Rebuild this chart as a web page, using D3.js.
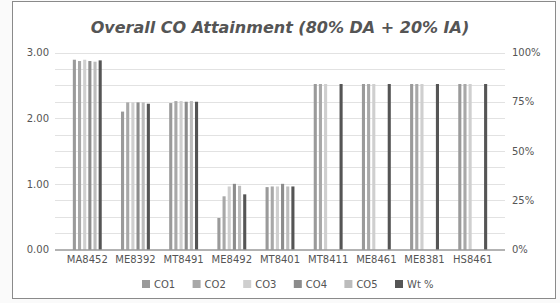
<!DOCTYPE html>
<html>
<head>
<meta charset="utf-8">
<script src="https://cdn.jsdelivr.net/npm/d3@7/dist/d3.min.js"></script>
<style>
  html, body { margin: 0; padding: 0; background: #fafafa; }
  svg { display: block; }
</style>
</head>
<body>
<svg id="chart" width="560" height="303"></svg>
<script>
const categories = ["MA8452", "ME8392", "MT8491", "ME8492", "MT8401", "MT8411", "ME8461", "ME8381", "HS8461"];
const co1 = [2.89, 2.10, 2.23, 0.48, 0.95, 2.52, 2.52, 2.52, 2.52];
const co2 = [2.87, 2.24, 2.26, 0.81, 0.96, 2.52, 2.52, 2.52, 2.52];
const co3 = [2.89, 2.24, 2.26, 0.96, 0.96, 2.52, 2.52, 2.52, 2.52];
const co4 = [2.87, 2.24, 2.25, 1.00, 1.00, null, null, null, null];
const co5 = [2.86, 2.24, 2.26, 0.97, 0.96, null, null, null, null];
const wtPct = [96, 74, 75, 28, 32, 84, 84, 84, 84];
const leftTicks = [0, 1, 2, 3];
const rightTicks = [0, 25, 50, 75, 100];
const seriesNames = ["CO1", "CO2", "CO3", "CO4", "CO5", "Wt %"];
const colors = ["#9a9a9a", "#a8a8a8", "#cfcfcf", "#8c8c8c", "#bcbcbc", "#555555"];

(function () {
const svg = d3.select("#chart");

// frame
svg.append("rect").attr("x", 12.5).attr("y", 1.5).attr("width", 543).attr("height", 297)
  .attr("fill", "#ffffff").attr("stroke", "#8a8a8a").attr("stroke-width", 1);

const plotTop = 52.5, plotBottom = 249.5, plotLeft = 55, plotRight = 505;

const x0 = d3.scaleBand().domain(categories).range([plotLeft, plotRight]).paddingInner(0.4).paddingOuter(0.37);
const x1 = d3.scaleBand().domain(seriesNames).range([0, x0.bandwidth()]).paddingInner(0.4);
const yL = d3.scaleLinear().domain([0, 3]).range([plotBottom, plotTop]);
const yR = d3.scaleLinear().domain([0, 100]).range([plotBottom, plotTop]);

// gridlines every 0.25
const gridVals = d3.range(0.25, 3.01, 0.25);
svg.append("g").selectAll("line").data(gridVals).join("line")
  .attr("x1", plotLeft).attr("x2", plotRight)
  .attr("y1", d => Math.round(yL(d)) + 0.5).attr("y2", d => Math.round(yL(d)) + 0.5)
  .attr("stroke", "#e2e2e2").attr("stroke-width", 1);

// left axis
const axL = svg.append("g").attr("transform", `translate(${plotLeft},0)`)
  .call(d3.axisLeft(yL).tickValues(leftTicks).tickFormat(d3.format(".2f")).tickSize(0).tickPadding(6));
axL.select(".domain").remove();
axL.selectAll("text").attr("font-family", "DejaVu Sans, Verdana, sans-serif").attr("font-size", 10).attr("fill", "#555");

// right axis
const axR = svg.append("g").attr("transform", `translate(${plotRight},0)`)
  .call(d3.axisRight(yR).tickValues(rightTicks).tickFormat(d => d + "%").tickSize(0).tickPadding(7));
axR.select(".domain").remove();
axR.selectAll("text").attr("font-family", "DejaVu Sans, Verdana, sans-serif").attr("font-size", 10).attr("fill", "#555");

// bars
const rows = categories.map((c, i) => ({
  cat: c,
  vals: [co1[i], co2[i], co3[i], co4[i], co5[i], wtPct[i]]
}));
const g = svg.append("g");
rows.forEach(r => {
  r.vals.forEach((v, k) => {
    if (v == null) return;
    const ys = k === 5 ? yR : yL;
    g.append("rect")
      .attr("x", x0(r.cat) + x1(seriesNames[k]))
      .attr("width", x1.bandwidth())
      .attr("y", ys(v))
      .attr("height", plotBottom - ys(v))
      .attr("fill", colors[k]);
  });
});

// baseline
svg.append("line").attr("x1", plotLeft).attr("x2", plotRight).attr("y1", plotBottom + 0.5).attr("y2", plotBottom + 0.5)
  .attr("stroke", "#666").attr("stroke-width", 1);

// category axis
const axB = svg.append("g").attr("transform", `translate(0,${plotBottom})`)
  .call(d3.axisBottom(x0).tickSize(0).tickPadding(6));
axB.select(".domain").remove();
axB.selectAll("text").attr("font-family", "DejaVu Sans, Verdana, sans-serif").attr("font-size", 10).attr("fill", "#555");

// title
svg.append("text").attr("x", 280).attr("y", 33).attr("text-anchor", "middle")
  .attr("font-family", "DejaVu Sans, Verdana, sans-serif").attr("font-size", 16)
  .attr("font-weight", "bold").attr("font-style", "italic").attr("fill", "#555")
  .text("Overall CO Attainment (80% DA + 20% IA)");

// legend
const lx = d3.scalePoint().domain(seriesNames).range([142, 395]);
const lg = svg.append("g");
seriesNames.forEach((s, k) => {
  lg.append("rect").attr("x", lx(s)).attr("y", 280).attr("width", 8).attr("height", 8).attr("fill", colors[k]);
  lg.append("text").attr("x", lx(s) + 12).attr("y", 288)
    .attr("font-family", "DejaVu Sans, Verdana, sans-serif").attr("font-size", 10).attr("fill", "#555").text(s);
});
})();
</script>
</body>
</html>
